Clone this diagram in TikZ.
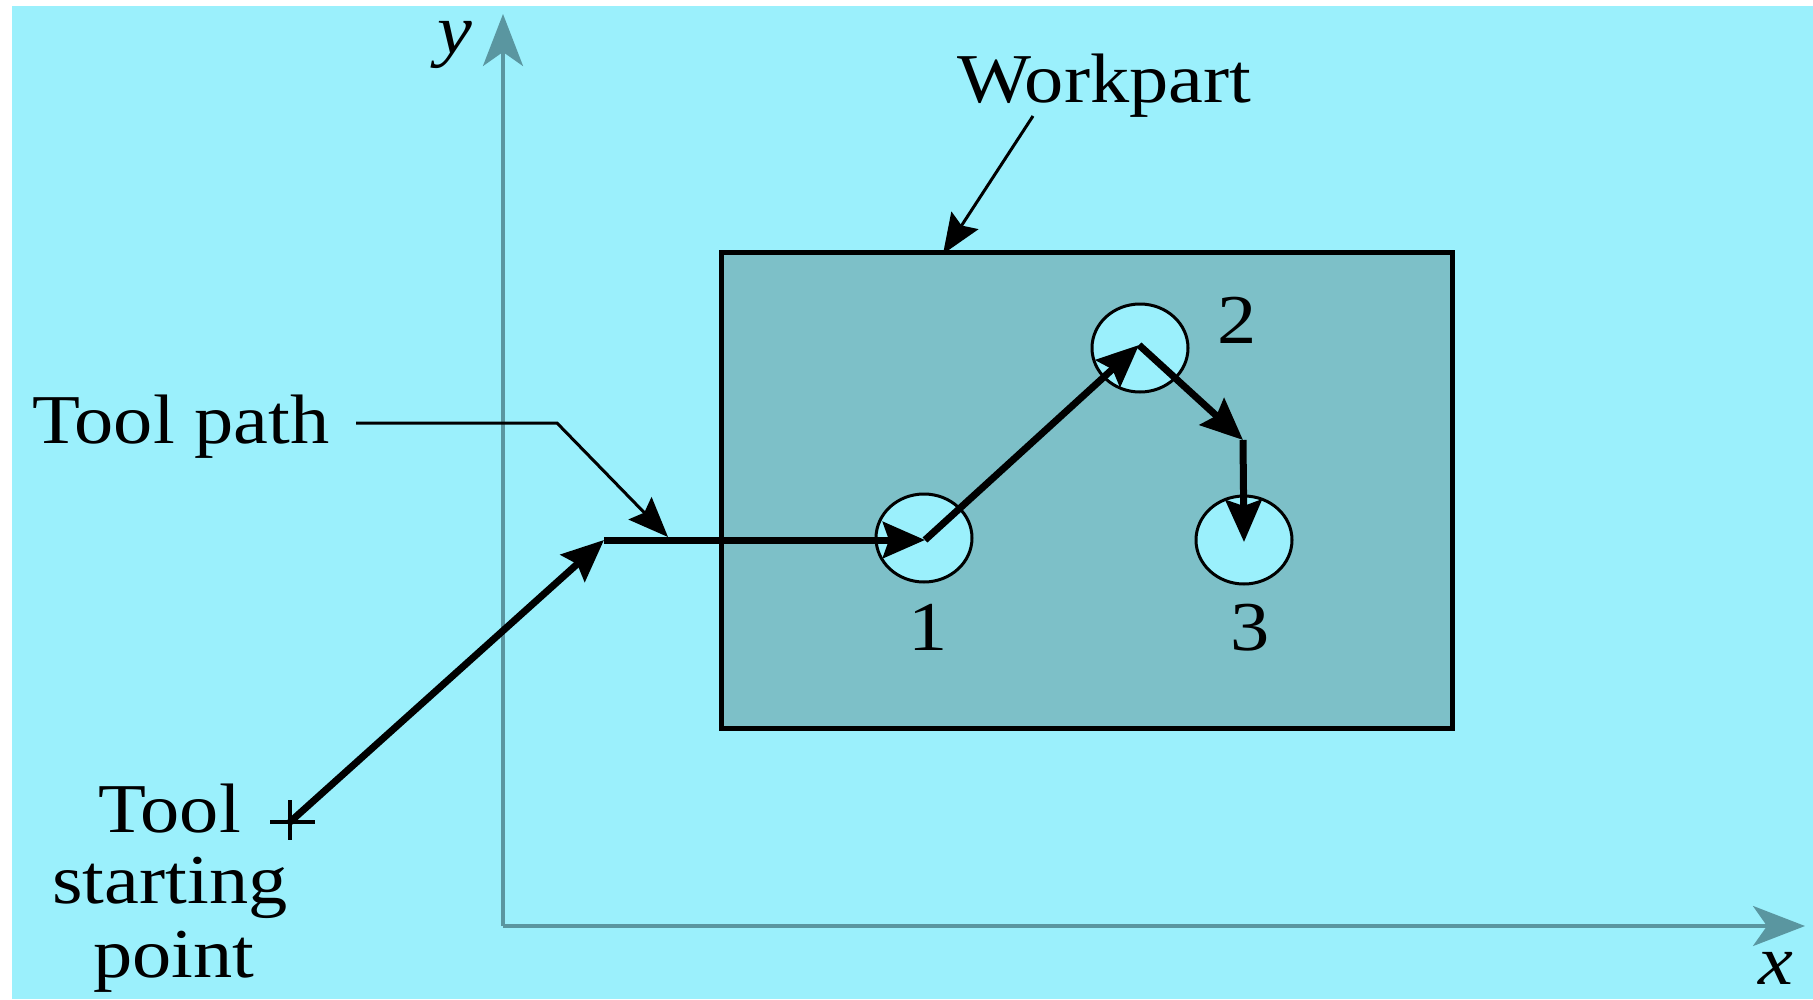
\documentclass[tikz,border=0pt]{standalone}
\usepackage{fontspec}
\setmainfont{Liberation Serif}[FakeStretch=1.12]
\usetikzlibrary{arrows.meta,shapes.geometric}
\definecolor{bgcyan}{RGB}{155,240,252}
\definecolor{workfill}{RGB}{125,192,200}
\definecolor{axiscol}{RGB}{90,150,160}
\tikzset{
  lbl/.style={font=\fontsize{70}{84}\selectfont, inner sep=0pt, text=black},
  toolseg/.style={line width=7pt, draw=black, -{Stealth[length=42pt,width=36pt,inset=6pt]}},
  leader/.style={line width=3pt, draw=black, -{Stealth[length=40pt,width=32pt,inset=6pt]}},
  axisline/.style={line width=3.5pt, draw=axiscol, -{Stealth[length=52pt,width=40pt,inset=14pt]}},
  hole/.style={ellipse, draw=black, line width=3pt, fill=bgcyan, minimum width=96pt, minimum height=88pt, inner sep=0pt},
}
\begin{document}
\begin{tikzpicture}[x=1pt,y=-1pt]
\useasboundingbox (0,0) rectangle (1813,999);
\fill[white] (0,0) rectangle (1813,999);
\fill[bgcyan] (12,6) rectangle (1813,999);
% axes
\coordinate (O) at (503,926);
\coordinate (ytip) at (503,14);
\coordinate (xtip) at (1805,926);
\draw[axisline] (O) -- (ytip);
\draw[axisline] (O) -- (xtip);
\node[lbl, anchor=base] (ylab) at (455,53) {\itshape y};
\node[lbl, anchor=base] (xlab) at (1776,984) {\itshape x};
% workpart
\node[draw=black, line width=4.5pt, fill=workfill, inner sep=0pt, anchor=north west,
      minimum width=731pt, minimum height=476pt] (work) at (719,250) {};
\node[lbl, anchor=base west] (wlab) at (957,102) {Workpart};
\coordinate (wl) at (1033,116);
\coordinate (wt) at (943,254);
\draw[leader] (wl) -- (wt);
% holes
\node[hole] (h1) at (924,538) {};
\node[hole] (h2) at (1140,348) {};
\node[hole] (h3) at (1244,540) {};
\node[lbl, anchor=base] (n1) at (928,650) {1};
\node[lbl, anchor=base] (n2) at (1237,343) {2};
\node[lbl, anchor=base] (n3) at (1250,650) {3};
% tool path
\coordinate (S) at (290,822);
\coordinate (A) at (604,540);
\coordinate (P1) at (925,540);
\coordinate (P2) at (1139,345);
\coordinate (C) at (1243,440);
\coordinate (P3) at (1244,542);
\draw[toolseg] (S) -- (A);
\draw[toolseg] (A) -- (P1);
\draw[toolseg] (P1) -- (P2);
\draw[toolseg] (P2) -- (C);
\draw[toolseg] (C) -- (P3);
% start cross
\draw[line width=4pt] (270,822) -- (315,822);
\draw[line width=4pt] (290,800) -- (290,840);
% labels
\node[lbl, anchor=base west] (tp) at (32,443) {Tool path};
\coordinate (tpa) at (356,423);
\coordinate (tpb) at (557,423);
\coordinate (tpt) at (668,537);
\draw[leader] (tpa) -- (tpb) -- (tpt);
\node[lbl, anchor=base west] (t1) at (98,832) {Tool};
\node[lbl, anchor=base west] (t2) at (52,903) {starting};
\node[lbl, anchor=base west] (t3) at (93,977) {point};
\end{tikzpicture}
\end{document}
